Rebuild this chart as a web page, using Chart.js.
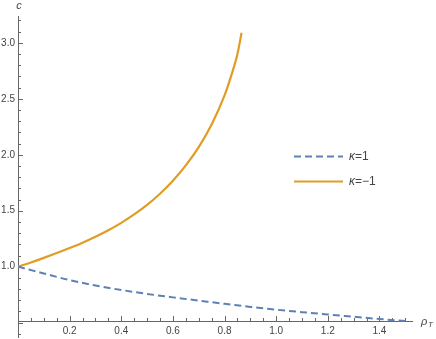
<!DOCTYPE html>
<html>
<head>
<meta charset="utf-8">
<script src="https://cdn.jsdelivr.net/npm/chart.js@4/dist/chart.umd.min.js"></script>
<style>
  html, body { margin: 0; padding: 0; background: #fff; }
  #wrap { width: 436px; height: 339px; }
</style>
</head>
<body>
<div id="wrap"><canvas id="plot"></canvas></div>
<script>
// values
const rhoBlue = [0, 0.1, 0.2, 0.3, 0.4, 0.5, 0.6, 0.7, 0.8, 0.9, 1.0, 1.1, 1.2, 1.3, 1.4, 1.5];
const cBlue = [1.0, 0.94, 0.88, 0.832, 0.792, 0.757, 0.726, 0.697, 0.668, 0.641, 0.616, 0.594, 0.573, 0.553, 0.533, 0.514];

const rhoOrange = [0, 0.05, 0.1, 0.15, 0.2, 0.25, 0.3, 0.35, 0.4, 0.45, 0.5, 0.55, 0.6, 0.65, 0.7, 0.75, 0.8, 0.825, 0.85, 0.866];
const cOrange = [1.0, 1.038, 1.079, 1.122, 1.167, 1.215, 1.268, 1.326, 1.392, 1.467, 1.552, 1.652, 1.768, 1.905, 2.068, 2.27, 2.53, 2.7, 2.9, 3.09];

const seriesLabels = ["=1", "=\u22121"];
const xMajor = [0.2, 0.4, 0.6, 0.8, 1.0, 1.2, 1.4];
const yMajor = [1.0, 1.5, 2.0, 2.5, 3.0];

const BLUE = "#5E81B5";
const ORANGE = "#E19C24";
const AXIS = "#666";
const TEXT = "#444";

const X_MIN = 0, X_MAX = 1.53, Y_MIN = 0.363, Y_MAX = 3.24;
const X_AXIS_AT = 0.515;

const pts = (xs, ys) => xs.map((x, i) => ({ x, y: ys[i] }));

const axesPlugin = {
  id: "mmaAxes",
  beforeDatasetsDraw(chart) {
    const { ctx, chartArea: a } = chart;
    const xs = chart.scales.x, ys = chart.scales.y;
    const y0 = ys.getPixelForValue(X_AXIS_AT);
    const x0 = xs.getPixelForValue(0);
    ctx.save();
    ctx.strokeStyle = AXIS;
    ctx.lineWidth = 1;
    ctx.beginPath();
    ctx.moveTo(a.left, Math.round(y0) + 0.5);
    ctx.lineTo(a.right, Math.round(y0) + 0.5);
    ctx.moveTo(Math.round(x0) + 0.5, a.top);
    ctx.lineTo(Math.round(x0) + 0.5, a.bottom);
    ctx.stroke();

    // x ticks (inward = upward)
    ctx.beginPath();
    for (let v = 0.05; v < X_MAX; v += 0.05) {
      const px = Math.round(xs.getPixelForValue(v)) + 0.5;
      const major = xMajor.some((m) => Math.abs(m - v) < 1e-6);
      ctx.moveTo(px, y0);
      ctx.lineTo(px, y0 - (major ? 5 : 3));
    }
    // y ticks (inward = right)
    for (let v = 0.4; v < Y_MAX; v += 0.1) {
      const py = Math.round(ys.getPixelForValue(v)) + 0.5;
      const major = Math.abs(v * 2 - Math.round(v * 2)) < 1e-6;
      ctx.moveTo(x0, py);
      ctx.lineTo(x0 + (major ? 5 : 3), py);
    }
    ctx.stroke();

    ctx.fillStyle = TEXT;
    ctx.font = "10px 'Liberation Sans', Arial, sans-serif";
    ctx.textAlign = "center";
    ctx.textBaseline = "top";
    xMajor.forEach((v) => ctx.fillText(v.toFixed(1), xs.getPixelForValue(v), y0 + 5));
    ctx.textAlign = "right";
    ctx.textBaseline = "middle";
    yMajor.forEach((v) => ctx.fillText(v.toFixed(1), x0 - 3, ys.getPixelForValue(v)));

    // axis labels
    ctx.font = "italic 11px 'Liberation Sans', Arial, sans-serif";
    ctx.textAlign = "center";
    ctx.fillText("c", x0 + 1, 6);
    ctx.textAlign = "left";
    ctx.fillText("\u03c1", 421, y0 + 1);
    ctx.font = "italic 8px 'Liberation Sans', Arial, sans-serif";
    ctx.fillText("T", 428, y0 + 4);
    ctx.restore();
  },
  afterDraw(chart) {
    const { ctx } = chart;
    ctx.save();
    const rows = [
      { y: 156.5, color: BLUE, dash: [7, 4] },
      { y: 181.5, color: ORANGE, dash: [] },
    ];
    rows.forEach((r, i) => {
      ctx.strokeStyle = r.color;
      ctx.lineWidth = 2;
      ctx.setLineDash(r.dash);
      ctx.beginPath();
      ctx.moveTo(294, r.y);
      ctx.lineTo(343, r.y);
      ctx.stroke();
      ctx.setLineDash([]);
      ctx.fillStyle = TEXT;
      ctx.textBaseline = "middle";
      ctx.textAlign = "left";
      ctx.font = "italic 12px 'Liberation Sans', Arial, sans-serif";
      ctx.fillText("\u03ba", 349, r.y + 0.5);
      const w = ctx.measureText("\u03ba").width;
      ctx.font = "12px 'Liberation Sans', Arial, sans-serif";
      ctx.fillText(seriesLabels[i], 349 + w, r.y + 0.5);
    });
    ctx.restore();
  },
};

new Chart(document.getElementById("plot"), {
  type: "line",
  data: {
    datasets: [
      {
        label: "\u03ba" + seriesLabels[0],
        data: pts(rhoBlue, cBlue),
        borderColor: BLUE,
        borderWidth: 2,
        borderDash: [7, 4],
        pointRadius: 0,
        cubicInterpolationMode: "monotone",
        fill: false,
      },
      {
        label: "\u03ba" + seriesLabels[1],
        data: pts(rhoOrange, cOrange),
        borderColor: ORANGE,
        borderWidth: 2.2,
        pointRadius: 0,
        cubicInterpolationMode: "monotone",
        fill: false,
      },
    ],
  },
  options: {
    responsive: true,
    maintainAspectRatio: false,
    animation: false,
    layout: { padding: { left: 18, right: 23, top: 16, bottom: 1 } },
    plugins: { legend: { display: false }, tooltip: { enabled: false } },
    scales: {
      x: { type: "linear", min: X_MIN, max: X_MAX, display: false },
      y: { type: "linear", min: Y_MIN, max: Y_MAX, display: false },
    },
  },
  plugins: [axesPlugin],
});
</script>
</body>
</html>
